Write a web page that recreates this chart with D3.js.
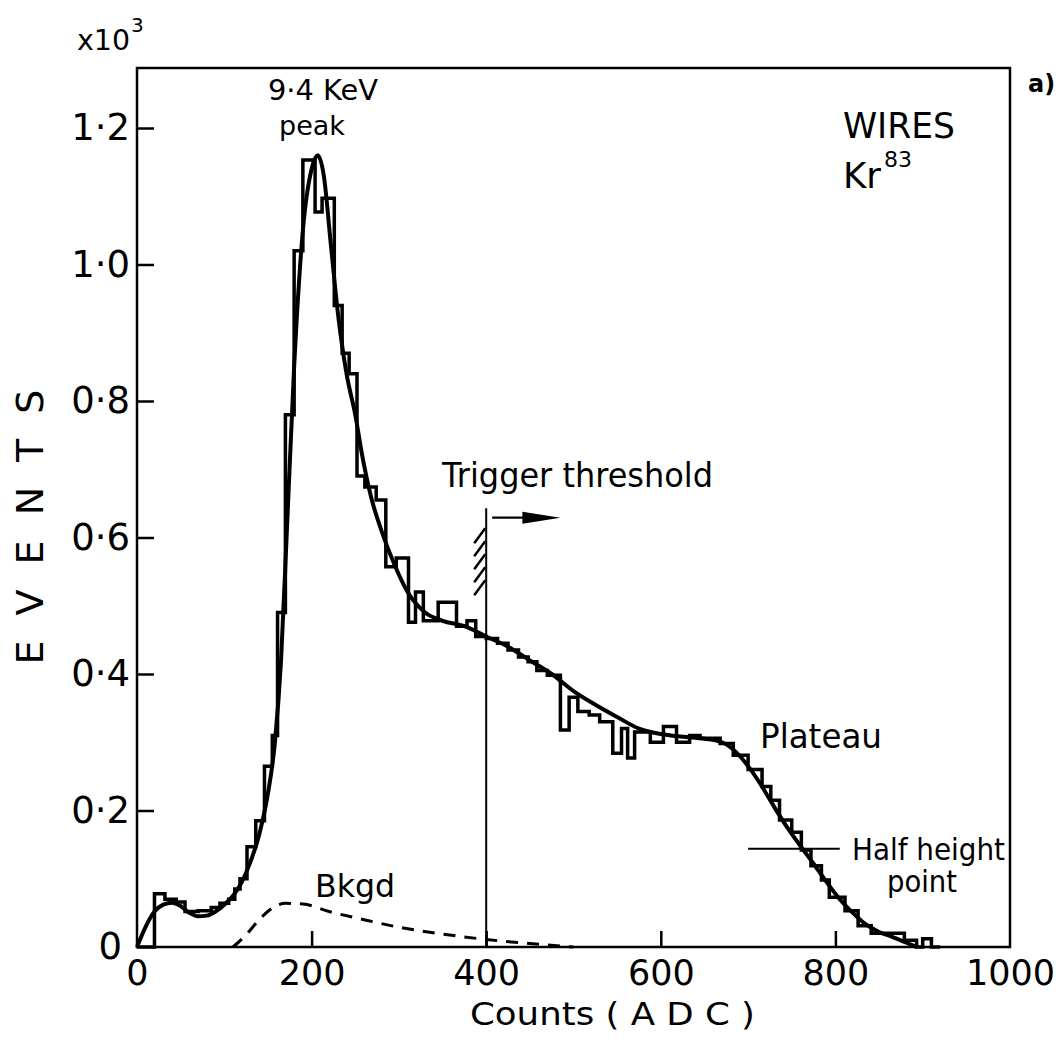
<!DOCTYPE html>
<html>
<head>
<meta charset="utf-8">
<script src="https://cdn.jsdelivr.net/npm/d3@7"></script>
<style>
  html, body { margin: 0; padding: 0; background: #fff; }
  svg { display: block; }
  text { font-family: "DejaVu Sans", sans-serif; fill: #000; }
</style>
</head>
<body>
<svg id="chart" width="1059" height="1042"></svg>
<script>
// ---------- data ----------
const xTicks = [0, 200, 400, 600, 800, 1000];
const yTicks = [0, 0.2, 0.4, 0.6, 0.8, 1.0, 1.2];
const yTickLabels = ["0", "0·2", "0·4", "0·6", "0·8", "1·0", "1·2"];

// histogram: bin left edges (ADC counts) and heights (x10^3 events)
const histEdges = [0, 20, 32, 45, 55, 70, 85, 95, 105, 112, 118, 126, 136, 146, 155, 161, 170, 180, 190, 204,
  212, 226, 235, 243, 252, 261, 274, 285, 297, 311, 319, 328, 345, 366, 378, 388, 400, 413, 425, 437,
  448, 458, 470, 485, 495, 505, 518, 530, 545, 555, 562, 570, 588, 603, 618, 633, 645, 668, 683, 700,
  716, 726, 736, 750, 761, 772, 784, 793, 811, 826, 841, 879, 893, 900, 910];
const histValues = [0, 0.078, 0.070, 0.066, 0.052, 0.053, 0.058, 0.064, 0.070, 0.085, 0.100, 0.147, 0.185, 0.265, 0.310, 0.490, 0.780, 1.020, 1.153, 1.077,
  1.097, 0.940, 0.870, 0.840, 0.690, 0.674, 0.655, 0.557, 0.570, 0.476, 0.520, 0.478, 0.505, 0.470, 0.478, 0.455, 0.452, 0.445, 0.435, 0.425,
  0.418, 0.405, 0.398, 0.318, 0.366, 0.345, 0.340, 0.330, 0.284, 0.320, 0.277, 0.315, 0.300, 0.323, 0.300, 0.310, 0.306, 0.298, 0.281, 0.260,
  0.235, 0.215, 0.186, 0.168, 0.142, 0.119, 0.098, 0.073, 0.053, 0.031, 0.020, 0.010, 0, 0.012, 0];
const histEnd = 920;

// smooth fitted curve
const fitX = [0, 10, 20, 30, 40, 50, 60, 70, 80, 90, 100, 110, 120, 130, 140, 150, 158, 165, 172, 180, 190, 200, 207, 214, 222, 230, 240, 250, 258, 268,
  280, 295, 310, 330, 350, 375, 400, 425, 450, 475, 500, 525, 550, 575, 600, 625, 650, 670, 685, 700, 715, 730, 745, 760, 775, 790, 805, 820, 835, 850, 865, 880, 893];
const fitY = [0, 0.030, 0.052, 0.062, 0.065, 0.060, 0.050, 0.045, 0.046, 0.052, 0.062, 0.075, 0.095, 0.125, 0.165, 0.225, 0.300, 0.420, 0.620, 0.850, 1.050, 1.140, 1.160, 1.130, 1.030, 0.930, 0.840, 0.780, 0.720, 0.660,
  0.610, 0.560, 0.520, 0.490, 0.478, 0.470, 0.455, 0.440, 0.420, 0.400, 0.375, 0.355, 0.337, 0.320, 0.312, 0.308, 0.305, 0.300, 0.287, 0.265, 0.237, 0.205, 0.175, 0.148, 0.122, 0.095, 0.070, 0.050, 0.033, 0.022, 0.015, 0.007, 0];

// background (dashed)
const bkgdX = [110, 125, 140, 155, 170, 190, 220, 260, 300, 350, 400, 450, 500];
const bkgdY = [0, 0.018, 0.040, 0.057, 0.064, 0.063, 0.052, 0.040, 0.029, 0.019, 0.011, 0.005, 0];

// annotations (data units)
const triggerX = 400, triggerTop = 0.643, arrowY = 0.629, arrowEnd = 485;
const halfHeightY = 0.144, halfHeightFrom = 700, halfHeightTo = 805;

// ---------- drawing ----------
const svg = d3.select("#chart");
const L = 137, R = 1010, T = 68, B = 947;
const x = d3.scaleLinear().domain([0, 1000]).range([L, R]);
const y = d3.scaleLinear().domain([0, 1.2]).range([B, 128]);

// frame
svg.append("rect").attr("x", L).attr("y", T).attr("width", R - L).attr("height", B - T)
  .attr("fill", "none").attr("stroke", "#000").attr("stroke-width", 2.5);

// y axis
const yAxis = svg.append("g").attr("transform", `translate(${L},0)`)
  .call(d3.axisLeft(y).tickValues(yTicks).tickSize(-17).tickPadding(7)
    .tickFormat((d, i) => yTickLabels[i]));
yAxis.select(".domain").remove();
yAxis.selectAll(".tick line").attr("stroke", "#000").attr("stroke-width", 2.5)
  .filter(d => d === 0).remove();
yAxis.selectAll(".tick text").attr("font-size", 37).attr("font-family", "DejaVu Sans").attr("fill", "#000")
  .filter(d => d === 0).attr("x", -15);

// x axis
const xAxis = svg.append("g").attr("transform", `translate(0,${B})`)
  .call(d3.axisBottom(x).tickValues(xTicks).tickSize(-16).tickPadding(13).tickFormat(d3.format("d")));
xAxis.select(".domain").remove();
xAxis.selectAll(".tick line").attr("stroke", "#000").attr("stroke-width", 2.5)
  .filter(d => d === 0 || d === 1000).remove();
xAxis.selectAll(".tick text").attr("font-size", 35).attr("font-family", "DejaVu Sans").attr("fill", "#000");

// histogram
const histPts = histEdges.map((e, i) => [e, histValues[i]]);
histPts.push([histEnd, 0]);
svg.append("path").datum(histPts)
  .attr("d", d3.line().x(d => x(d[0])).y(d => y(d[1])).curve(d3.curveStepAfter))
  .attr("fill", "none").attr("stroke", "#000").attr("stroke-width", 3.5).attr("stroke-linejoin", "miter");

// fitted curve
svg.append("path").datum(fitX.map((v, i) => [v, fitY[i]]))
  .attr("d", d3.line().x(d => x(d[0])).y(d => y(d[1])).curve(d3.curveMonotoneX))
  .attr("fill", "none").attr("stroke", "#000").attr("stroke-width", 4).attr("stroke-linejoin", "round");

// background dashed
svg.append("path").datum(bkgdX.map((v, i) => [v, bkgdY[i]]))
  .attr("d", d3.line().x(d => x(d[0])).y(d => y(d[1])).curve(d3.curveMonotoneX))
  .attr("fill", "none").attr("stroke", "#000").attr("stroke-width", 3).attr("stroke-dasharray", "12,9");

// trigger threshold line
svg.append("line").attr("x1", x(triggerX)).attr("x2", x(triggerX))
  .attr("y1", y(triggerTop)).attr("y2", B).attr("stroke", "#000").attr("stroke-width", 2);
// hatching
const hTop = y(triggerTop) + 20;
for (let i = 0; i < 5; i++) {
  svg.append("line")
    .attr("x1", x(triggerX) - 12).attr("y1", hTop + 15 + i * 13)
    .attr("x2", x(triggerX) - 1).attr("y2", hTop + i * 13)
    .attr("stroke", "#000").attr("stroke-width", 2.5);
}
// arrow
const ax0 = x(triggerX) + 6, ax1 = x(arrowEnd), ay = y(arrowY);
svg.append("line").attr("x1", ax0).attr("x2", ax1 - 30).attr("y1", ay).attr("y2", ay)
  .attr("stroke", "#000").attr("stroke-width", 2.2);
svg.append("path").attr("d", `M${ax1 - 38},${ay - 6} L${ax1},${ay} L${ax1 - 38},${ay + 6} Z`).attr("fill", "#000");

// half height line
svg.append("line").attr("x1", x(halfHeightFrom)).attr("x2", x(halfHeightTo))
  .attr("y1", y(halfHeightY)).attr("y2", y(halfHeightY)).attr("stroke", "#000").attr("stroke-width", 2);

// ---------- text ----------
function txt(s, xx, yy, size, opts = {}) {
  const t = svg.append("text").attr("x", xx).attr("y", yy).attr("font-size", size).text(s);
  if (opts.anchor) t.attr("text-anchor", opts.anchor);
  if (opts.len) t.attr("textLength", opts.len).attr("lengthAdjust", "spacingAndGlyphs");
  if (opts.family) t.attr("font-family", opts.family);
  if (opts.weight) t.attr("font-weight", opts.weight);
  return t;
}
txt("9·4 KeV", 268, 100, 29, { len: 110 });
txt("peak", 279, 135, 27, { len: 66 });
txt("WIRES", 843, 138, 35, { len: 112 });
txt("Kr", 843, 188, 35, { len: 38 });
txt("83", 884, 167, 21, { len: 28 });
txt("a)", 1028, 92, 24, { family: "Liberation Serif", weight: "bold" });
txt("Trigger threshold", 442, 487, 34, { len: 271 });
txt("Plateau", 760, 748, 34, { len: 122 });
txt("Half height", 852, 860, 30, { len: 153 });
txt("point", 922, 892, 30, { anchor: "middle", len: 70 });
txt("Bkgd", 315, 897, 32, { len: 80 });
txt("Counts ( A D C )", 470, 1025, 32, { len: 285 });
txt("x10", 77, 50, 28, { len: 53 });
txt("3", 131, 32, 20);
svg.append("text").attr("transform", "translate(43,527) rotate(-90)")
  .attr("text-anchor", "middle").attr("font-size", 38)
  .attr("textLength", 275).attr("lengthAdjust", "spacing").text("EVENTS");
</script>
</body>
</html>
